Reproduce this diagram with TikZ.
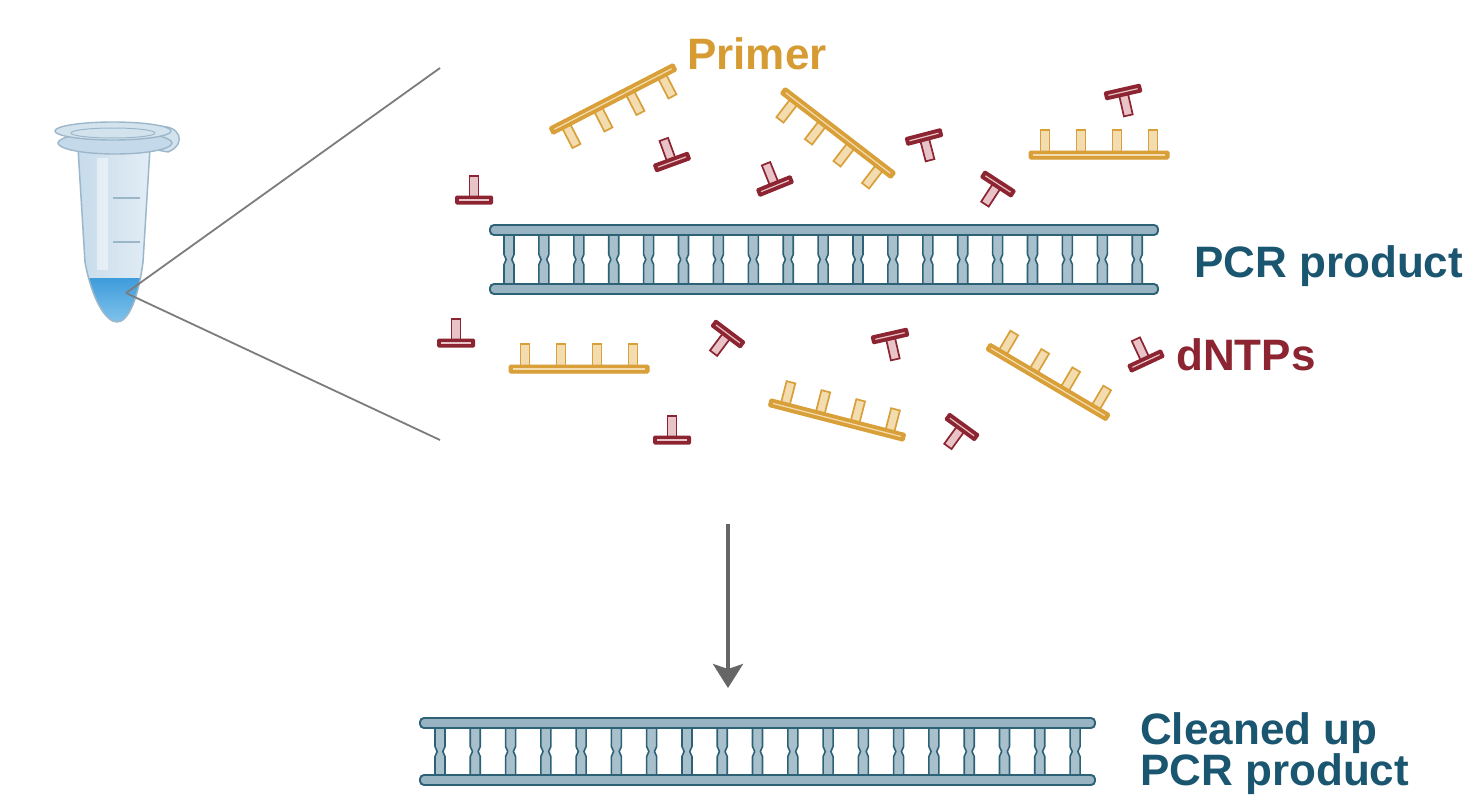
\documentclass[tikz,border=0pt]{standalone}
\usepackage{fontspec}
\setmainfont{Liberation Sans}
\usetikzlibrary{arrows.meta}

% palette
\definecolor{dnaline}{HTML}{2D6176}
\definecolor{dnafill}{HTML}{98B4C2}
\definecolor{rungfill}{HTML}{A8C0CC}
\definecolor{labelteal}{HTML}{1B5670}
\definecolor{primergold}{HTML}{D9A03A}
\definecolor{primerpale}{HTML}{F3DDB0}
\definecolor{primertext}{HTML}{D69B33}
\definecolor{ntpred}{HTML}{8C2431}
\definecolor{ntppale}{HTML}{E8C3C7}
\definecolor{viewgrey}{HTML}{7C7C7C}
\definecolor{arrowgrey}{HTML}{666666}
\definecolor{tubeedge}{HTML}{9DB7CA}
\definecolor{tubeleft}{HTML}{C4D9E9}
\definecolor{tuberight}{HTML}{E6F0F7}
\definecolor{rimfill}{HTML}{D3E3EE}
\definecolor{liquidtop}{HTML}{3E9CDB}
\definecolor{liquidbot}{HTML}{8CC9EE}

\newcommand{\lblfont}{\fontsize{44}{44}\selectfont\bfseries}

% double-stranded DNA drawn as a ladder of 19 base pairs
% #1 left end, #2 right end, #3 upper rail y, #4 lower rail y, #5 first rung x, #6 rung spacing
\newcommand{\dnaladder}[6]{%
  \pgfmathsetmacro{\ladmid}{(#3+#4)/2}
  \foreach \i in {0,...,18}{
    \pgfmathsetmacro{\rx}{#5+\i*#6}
    \draw[rung] (\rx-5,#3) -- (\rx-5,\ladmid+5) -- (\rx-2.8,\ladmid) -- (\rx-5,\ladmid-5)
      -- (\rx-5,#4) -- (\rx+5,#4) -- (\rx+5,\ladmid-5) -- (\rx+2.8,\ladmid)
      -- (\rx+5,\ladmid+5) -- (\rx+5,#3) -- cycle;
  }
  \draw[rail] (#1,#3-5) rectangle (#2,#3+5);
  \draw[rail] (#1,#4-5) rectangle (#2,#4+5);
}

\tikzset{
  rung/.style={draw=dnaline, fill=rungfill, line width=1.6pt, line join=round},
  rail/.style={draw=dnaline, fill=dnafill, line width=1.9pt, rounded corners=4pt},
  primerpeg/.style={draw=primergold, fill=primerpale, line width=1.7pt},
  primerbb/.style={draw=primergold, fill=primergold, line width=1pt, rounded corners=1.5pt},
  ntpstem/.style={draw=ntpred, fill=ntppale, line width=1.7pt},
  ntpbar/.style={fill=ntpred, rounded corners=1.5pt},
  viewline/.style={draw=viewgrey, line width=1.8pt},
  flow/.style={draw=arrowgrey, line width=3.5pt, -{Stealth[length=24pt,width=30pt,inset=5pt]}},
  lbl/.style={inner sep=0pt, anchor=base west, font=\lblfont},
  primer/.pic={
    \foreach \px in {-54,-18,18,54}{
      \draw[primerpeg] (\px-4.5,3) rectangle (\px+4.5,25);
    }
    \draw[primerbb] (-70,-4) rectangle (70,4);
    \draw[primerpale, line width=1.2pt] (-66,0) -- (66,0);
  },
  ntp/.pic={
    \draw[ntpstem] (-4.5,3) rectangle (4.5,24);
    \fill[ntpbar] (-19,-4.5) rectangle (19,4.5);
    \draw[ntppale, line width=1.2pt] (-15,0) -- (15,0);
  }
}

\begin{document}
\begin{tikzpicture}[x=1pt, y=1pt]
\useasboundingbox (0,0) rectangle (1468,-800);
\fill[white] (0,0) rectangle (1468,-800);

% ---------- reaction tube ----------
% snap-cap tab
\draw[tubeedge, fill=rimfill, line width=1.4pt]
  (156,-127) .. controls (180,-123) and (188,-144) .. (168,-152) -- (152,-149) -- cycle;
% body with liquid at the bottom
\begin{scope}
  \clip (78,-148) -- (85,-262) .. controls (92,-300) and (106,-322) .. (117,-322)
        .. controls (128,-322) and (138,-300) .. (143,-262) -- (150,-148) -- cycle;
  \shade[left color=tubeleft, right color=tuberight] (70,-140) rectangle (160,-330);
  \fill[white, opacity=0.45] (97,-158) rectangle (108,-270);
  \shade[top color=liquidtop, bottom color=liquidbot] (70,-278) rectangle (160,-330);
\end{scope}
\draw[tubeedge, line width=1.5pt]
  (78,-148) -- (85,-262) .. controls (92,-300) and (106,-322) .. (117,-322)
  .. controls (128,-322) and (138,-300) .. (143,-262) -- (150,-148);
% graduation marks
\draw[tubeedge, line width=1.5pt] (113,-198) -- (140,-198);
\draw[tubeedge, line width=1.5pt] (113,-242) -- (140,-242);
% rim
\draw[tubeedge, fill=tubeleft, line width=1.4pt] (115,-143) ellipse [x radius=57, y radius=11];
\draw[tubeedge, fill=rimfill, line width=1.4pt] (113,-131) ellipse [x radius=58, y radius=9];
\draw[tubeedge, line width=1pt] (113,-133) ellipse [x radius=42, y radius=5];

% ---------- magnified view lines ----------
\coordinate (lens) at (126,-293);
\coordinate (viewtop) at (440,-68);
\coordinate (viewbot) at (440,-440);
\draw[viewline] (lens) -- (viewtop);
\draw[viewline] (lens) -- (viewbot);

% ---------- reaction mix ----------
\dnaladder{490}{1158}{-230}{-289}{509}{34.9}

% primers
\pic[rotate=207.3] at (613,-99) {primer};
\pic[rotate=142.4] at (838,-133) {primer};
\pic at (1099,-155) {primer};
\pic at (579,-369) {primer};
\pic[rotate=-14.5] at (837,-420) {primer};
\pic[rotate=-30.6] at (1048,-382) {primer};

% dNTPs
\pic at (474,-200) {ntp};
\pic at (456,-343) {ntp};
\pic at (672,-440) {ntp};
\pic[rotate=20] at (672,-162) {ntp};
\pic[rotate=22] at (775,-186) {ntp};
\pic[rotate=194.6] at (924,-137) {ntp};
\pic[rotate=147] at (998,-184) {ntp};
\pic[rotate=192.8] at (1123,-92) {ntp};
\pic[rotate=143] at (728,-334) {ntp};
\pic[rotate=192.8] at (890,-336) {ntp};
\pic[rotate=144] at (962,-427) {ntp};
\pic[rotate=25] at (1146,-361) {ntp};

% labels
\node[lbl, text=primertext] (primerlabel) at (687,-70) {Primer};
\node[lbl, text=labelteal] (pcrlabel) at (1194,-277) {PCR product};
\node[lbl, text=ntpred] (ntplabel) at (1176,-370) {dNTPs};

% ---------- clean-up step ----------
\coordinate (flowfrom) at (728,-524);
\coordinate (flowto) at (728,-688);
\draw[flow] (flowfrom) -- (flowto);

\dnaladder{420}{1095}{-723}{-780}{440}{35.28}

\node[lbl, text=labelteal] (cleanlabel) at (1140,-744) {Cleaned up};
\node[lbl, text=labelteal] (cleanlabel2) at (1140,-785) {PCR product};
\end{tikzpicture}
\end{document}
